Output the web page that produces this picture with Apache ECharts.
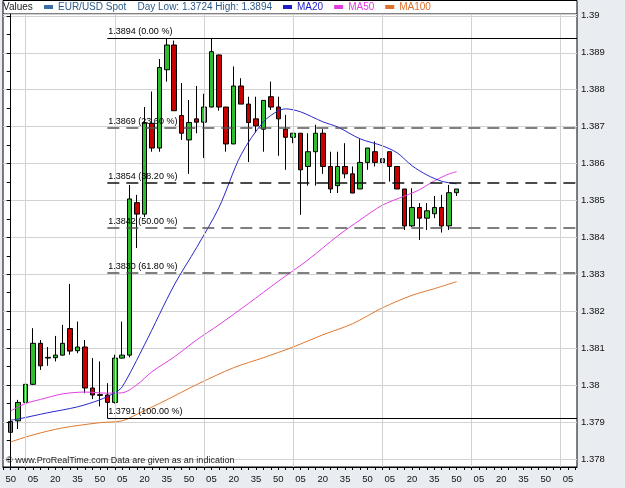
<!DOCTYPE html>
<html>
<head>
<meta charset="utf-8">
<script src="https://cdn.jsdelivr.net/npm/echarts@6/dist/echarts.min.js"></script>
<style>
  html, body { margin: 0; padding: 0; background: #e9ecf1; }
  #chart { width: 625px; height: 488px; }
</style>
</head>
<body>
<div id="chart"></div>
<script>
// 5 minute candles, index 0 = hh:50
const opens = [1.37872, 1.37903, 1.37953, 1.38002, 1.38113, 1.38073, 1.38074, 1.38081, 1.38153, 1.38093,
  1.38103, 1.37992, 1.37974, 1.37973, 1.37953, 1.38073, 1.38081, 1.38494, 1.38463, 1.38709,
  1.38642, 1.38854, 1.38921, 1.38730, 1.38664, 1.38721, 1.38712, 1.38753, 1.38894, 1.38753,
  1.38653, 1.38810, 1.38761, 1.38721, 1.38693, 1.38781, 1.38753, 1.38693, 1.38671, 1.38682,
  1.38592, 1.38632, 1.38682, 1.38592, 1.38540, 1.38592, 1.38572, 1.38531, 1.38603, 1.38632,
  1.38603, 1.38632, 1.38592, 1.38531, 1.38431, 1.38481, 1.38452, 1.38464, 1.38481, 1.38431, 1.38521];
const closes = [1.37901, 1.37953, 1.38002, 1.38113, 1.38052, 1.38075, 1.38081, 1.38113, 1.38092, 1.38103,
  1.37992, 1.37973, 1.37972, 1.37953, 1.38073, 1.38081, 1.38504, 1.38463, 1.38711, 1.38642,
  1.38860, 1.38921, 1.38743, 1.38682, 1.38711, 1.38712, 1.38753, 1.38903, 1.38753, 1.38653,
  1.38810, 1.38761, 1.38711, 1.38702, 1.38771, 1.38753, 1.38721, 1.38671, 1.38682, 1.38583,
  1.38632, 1.38682, 1.38592, 1.38531, 1.38592, 1.38572, 1.38520, 1.38603, 1.38642, 1.38603,
  1.38613, 1.38592, 1.38531, 1.38431, 1.38481, 1.38452, 1.38472, 1.38481, 1.38431, 1.38521, 1.38531];
const lows = [1.37847, 1.37881, 1.37950, 1.38000, 1.38041, 1.38052, 1.38064, 1.38080, 1.38082, 1.38086,
  1.37978, 1.37962, 1.37942, 1.37910, 1.37950, 1.38072, 1.38075, 1.38371, 1.38455, 1.38632,
  1.38632, 1.38822, 1.38743, 1.38664, 1.38572, 1.38682, 1.38615, 1.38752, 1.38743, 1.38632,
  1.38653, 1.38761, 1.38604, 1.38684, 1.38632, 1.38745, 1.38621, 1.38583, 1.38655, 1.38461,
  1.38540, 1.38540, 1.38572, 1.38520, 1.38520, 1.38560, 1.38520, 1.38531, 1.38583, 1.38592,
  1.38592, 1.38551, 1.38531, 1.38420, 1.38428, 1.38393, 1.38420, 1.38452, 1.38413, 1.38420, 1.38512];
const highs = [1.37915, 1.37960, 1.38032, 1.38154, 1.38122, 1.38103, 1.38133, 1.38163, 1.38274, 1.38172,
  1.38122, 1.38073, 1.38064, 1.38005, 1.38082, 1.38172, 1.38542, 1.38515, 1.38753, 1.38795,
  1.38883, 1.38940, 1.38933, 1.38818, 1.38772, 1.38810, 1.38789, 1.38940, 1.38895, 1.38753,
  1.38863, 1.38831, 1.38781, 1.38781, 1.38771, 1.38822, 1.38781, 1.38732, 1.38682, 1.38682,
  1.38682, 1.38705, 1.38693, 1.38632, 1.38632, 1.38655, 1.38592, 1.38666, 1.38642, 1.38660,
  1.38613, 1.38632, 1.38592, 1.38531, 1.38533, 1.38493, 1.38493, 1.38512, 1.38515, 1.38542, 1.38531];

// moving averages at some candle indices
const ma20Idx = [0, 1, 5, 9, 12, 14, 15, 18, 22, 25, 28, 31, 34, 36, 37, 39, 42, 44, 47, 50, 52, 54, 56, 58, 60];
const ma20 = [1.37905, 1.37908, 1.37925, 1.37941, 1.37960, 1.37979, 1.37995, 1.38109, 1.38271, 1.38372, 1.38480,
  1.38624, 1.38713, 1.38743, 1.38748, 1.38740, 1.38713, 1.38699, 1.38667, 1.38648, 1.38629, 1.38594,
  1.38569, 1.38552, 1.38545];
const ma50Idx = [0, 2, 4, 7, 10, 13, 15, 17, 19, 22, 25, 28, 32, 36, 40, 44, 47, 50, 53, 55, 57, 59, 60];
const ma50 = [1.37930, 1.37950, 1.37961, 1.37976, 1.37981, 1.37978, 1.37979, 1.38001, 1.38036, 1.38076, 1.38122,
  1.38163, 1.38221, 1.38281, 1.38339, 1.38404, 1.38447, 1.38487, 1.38512, 1.38529, 1.38553, 1.38572, 1.38578];
const ma100Idx = [0, 3, 7, 12, 15, 17, 21, 25, 30, 34, 38, 42, 46, 50, 54, 57, 60];
const ma100 = [1.37846, 1.37865, 1.37884, 1.37898, 1.37903, 1.37921, 1.37960, 1.38001, 1.38047, 1.38074, 1.38103,
  1.38136, 1.38166, 1.38209, 1.38243, 1.38261, 1.38280];

// fibonacci retracement, drawn from the low candle
const fibStart = 13;
const fibLevels = [1.3894, 1.38697, 1.38548, 1.38426, 1.38304, 1.3791];
const fibLabels = ['1.3894 (0.00 %)', '1.3869 (23.60 %)', '1.3854 (38.20 %)', '1.3842 (50.00 %)',
  '1.3830 (61.80 %)', '1.3791 (100.00 %)'];

const lastPrice = 1.3853;
const dayInfo = 'Day Low: 1.3724 High: 1.3894';

// axes
const timeLabels = ['50', '05', '20', '35', '50', '05', '20', '35', '50', '05', '20', '35', '50',
  '05', '20', '35', '50', '05', '20', '35', '50', '05', '20', '35', '50', '05'];
const hourSlots = [2, 14, 26, 38, 50, 62, 74];
const priceLevels = [1.378, 1.379, 1.380, 1.381, 1.382, 1.383, 1.384, 1.385, 1.386, 1.387, 1.388, 1.389, 1.390];
const xMin = -1.04, xMax = 76.2;
const yMin = 1.37778, yMax = 1.39005;

const FONT = '"Liberation Sans", Arial, sans-serif';

const candles = opens.map((o, i) => [i, o, closes[i], lows[i], highs[i]]);
const labelSlots = timeLabels.map((t, k) => k * 3);
const slotTicks = [];
for (let i = -1; i <= 76; i++) slotTicks.push(i);
const priceTicks = [];
priceLevels.forEach((p, k) => {
  priceTicks.push(p);
  if (k < priceLevels.length - 1) priceTicks.push(p + 0.0005);
});

const pairs = (idx, vals) => idx.map((x, k) => [x, vals[k]]);

const chart = echarts.init(document.getElementById('chart'));

const fibLines = fibLevels.map((v, k) => {
  const solid = k === 0 || k === fibLevels.length - 1;
  return [
    {
      coord: [fibStart, v],
      lineStyle: solid
        ? { color: '#000', width: 1, type: 'solid' }
        : { color: k === 2 ? '#111' : '#555', width: 1.6, type: [12, 7] },
      label: {
        show: true,
        position: 'insideStartTop',
        formatter: fibLabels[k],
        color: '#000',
        fontSize: 9,
        fontFamily: FONT,
        distance: [1, 2],
      },
    },
    { coord: [xMax, v] },
  ];
});

chart.setOption({
  animation: false,
  backgroundColor: '#e9ecf1',
  title: [
    {
      text: 'Values',
      left: 3,
      top: 2,
      padding: 0,
      textStyle: { fontSize: 10, fontWeight: 'normal', color: '#222', fontFamily: FONT },
    },
    {
      text: '© www.ProRealTime.com Data are given as an indication',
      left: 6,
      top: 456,
      padding: 0,
      textStyle: { fontSize: 9, fontWeight: 'normal', color: '#222', fontFamily: FONT },
    },
  ],
  legend: {
    left: 44,
    top: 2,
    padding: 0,
    icon: 'rect',
    itemWidth: 9,
    itemHeight: 4,
    itemGap: 11,
    selectedMode: false,
    textStyle: { fontSize: 10, fontFamily: FONT },
    formatter: (name) => (name === 'EUR/USD Spot' ? name + '    ' + dayInfo : name),
    data: [
      { name: 'EUR/USD Spot', itemStyle: { color: '#3a6ea5', borderWidth: 0 }, textStyle: { color: '#2b5a8a' } },
      { name: 'MA20', itemStyle: { color: '#1c1ccc', borderWidth: 0 }, textStyle: { color: '#1c1ccc' } },
      { name: 'MA50', itemStyle: { color: '#e03ce0', borderWidth: 0 }, textStyle: { color: '#e03ce0' } },
      { name: 'MA100', itemStyle: { color: '#e0722c', borderWidth: 0 }, textStyle: { color: '#e0722c' } },
    ],
  },
  graphic: [
    {
      type: 'rect',
      z: 0,
      silent: true,
      shape: { x: 3, y: 0.5, width: 574, height: 13.5 },
      style: { fill: '#fff', stroke: '#000', lineWidth: 1 },
    },
  ],
  grid: {
    left: 3,
    right: 48,
    top: 14,
    bottom: 21,
    show: true,
    backgroundColor: '#fff',
    borderColor: '#000',
    borderWidth: 1,
    outerBoundsMode: 'none',
  },
  xAxis: {
    type: 'value',
    min: xMin,
    max: xMax,
    axisLine: { show: true, lineStyle: { color: '#000' } },
    axisTick: { show: true, length: 3, customValues: slotTicks, lineStyle: { color: '#000' } },
    axisLabel: {
      customValues: labelSlots,
      formatter: (v) => timeLabels[Math.round(v / 3)],
      fontSize: 9.5,
      color: '#111',
      fontFamily: FONT,
      margin: 7,
    },
    splitLine: { show: false },
  },
  yAxis: [
    {
      type: 'value',
      position: 'right',
      min: yMin,
      max: yMax,
      z: 3,
      axisLine: { show: true, lineStyle: { color: '#000' } },
      axisTick: { show: true, inside: true, length: 4, customValues: priceTicks, lineStyle: { color: '#000' } },
      axisLabel: {
        customValues: priceLevels,
        formatter: (v) => String(Math.round(v * 1000) / 1000),
        fontSize: 9.5,
        color: '#111',
        fontFamily: FONT,
        margin: 4,
      },
      splitLine: { show: false },
    },
    {
      // only carries the horizontal grid lines (one per 0.001)
      type: 'value',
      position: 'right',
      min: yMin,
      max: yMax,
      splitNumber: 12,
      z: 0,
      axisLine: { show: false },
      axisTick: { show: false },
      axisLabel: { show: false },
      splitLine: { show: true, lineStyle: { color: '#d2d2d2', width: 1 } },
    },
  ],
  series: [
    {
      name: 'grid',
      type: 'line',
      data: [],
      z: 1,
      silent: true,
      markLine: {
        silent: true,
        symbol: 'none',
        label: { show: false },
        lineStyle: { color: '#d2d2d2', width: 1, type: 'solid' },
        emphasis: { disabled: true },
        data: hourSlots.map((x) => ({ xAxis: x })),
      },
    },
    {
      name: 'EUR/USD Spot',
      type: 'candlestick',
      z: 2,
      barWidth: 5,
      data: candles,
      encode: { x: 0, y: [1, 2, 3, 4] },
      itemStyle: {
        color: '#2dbd2d',
        color0: '#c80000',
        borderColor: '#000',
        borderColor0: '#000',
        borderWidth: 1,
      },
      markLine: {
        silent: true,
        symbol: 'none',
        emphasis: { disabled: true },
        data: fibLines.concat([
          {
            yAxis: lastPrice,
            lineStyle: { opacity: 0 },
            label: {
              show: true,
              position: 'end',
              distance: 0,
              formatter: String(lastPrice),
              backgroundColor: '#f6c300',
              borderColor: '#8a6d00',
              borderWidth: 1,
              padding: [2, 3, 1, 2],
              color: '#000',
              fontSize: 10,
              fontFamily: FONT,
            },
          },
        ]),
      },
    },
    {
      name: 'MA100',
      type: 'line',
      z: 3,
      smooth: 0.3,
      showSymbol: false,
      data: pairs(ma100Idx, ma100),
      lineStyle: { color: '#e0782e', width: 1 },
      itemStyle: { color: '#e0782e' },
    },
    {
      name: 'MA50',
      type: 'line',
      z: 3,
      smooth: 0.3,
      showSymbol: false,
      data: pairs(ma50Idx, ma50),
      lineStyle: { color: '#e040e0', width: 1 },
      itemStyle: { color: '#e040e0' },
    },
    {
      name: 'MA20',
      type: 'line',
      z: 3,
      smooth: 0.3,
      showSymbol: false,
      data: pairs(ma20Idx, ma20),
      lineStyle: { color: '#2828c8', width: 1 },
      itemStyle: { color: '#2828c8' },
    },
  ],
});
</script>
</body>
</html>
